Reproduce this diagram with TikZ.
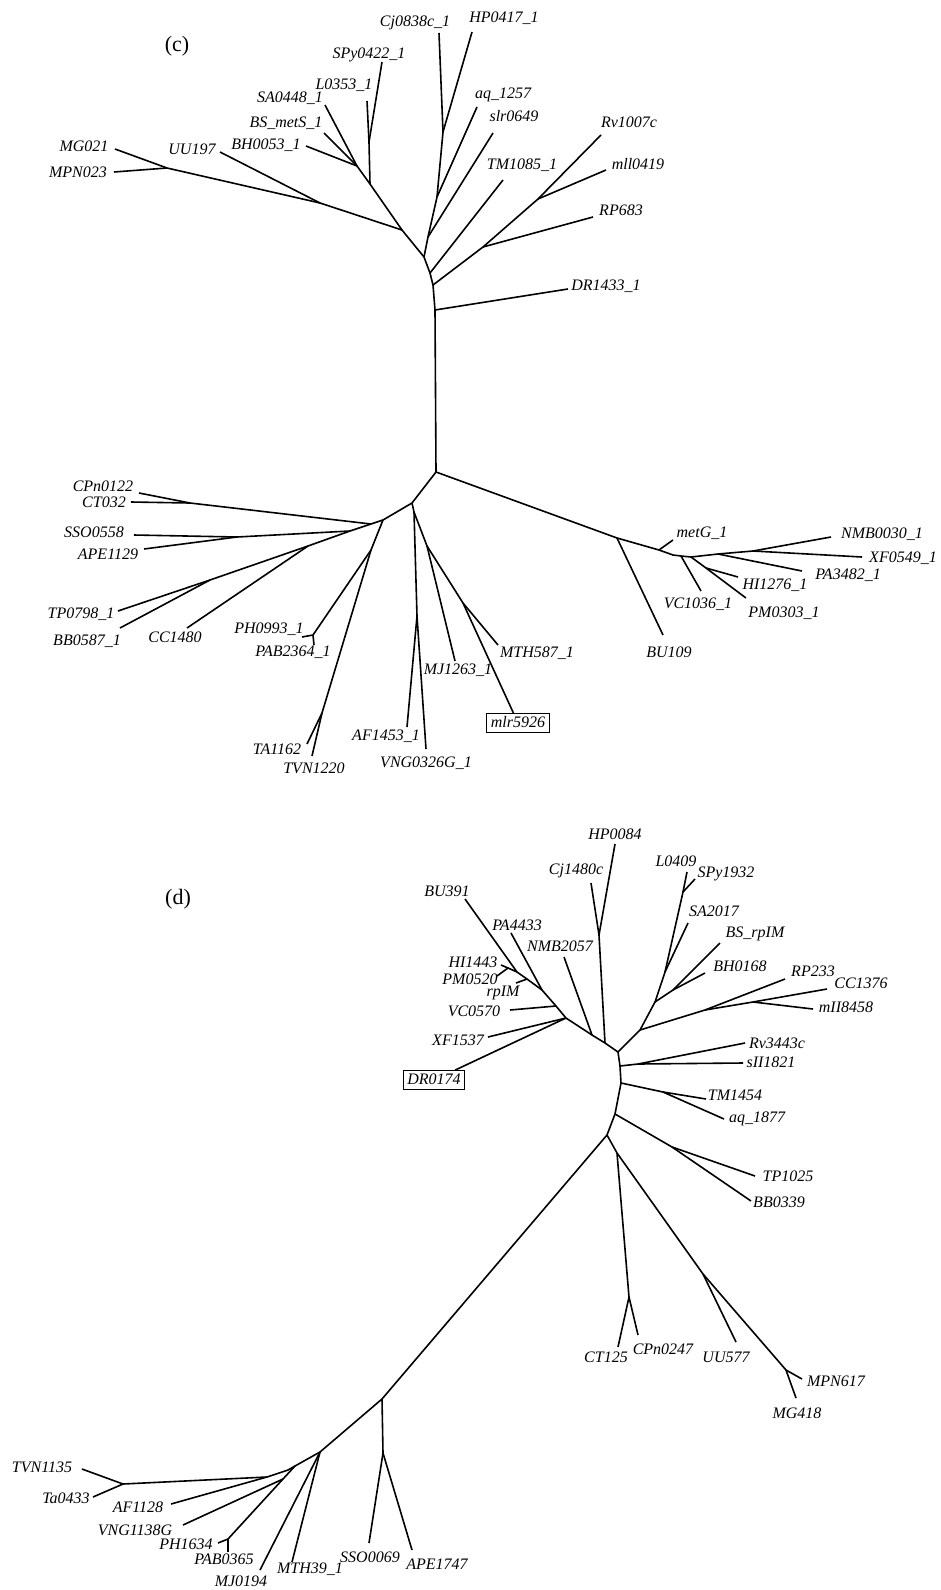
\documentclass[tikz,border=0pt]{standalone}
\usepackage{fontspec}
\setmainfont{Liberation Serif}
\begin{document}
\begin{tikzpicture}[x=1pt,y=-1pt,
  br/.style={line width=1.6pt,line join=round},
  lab/.style={font=\fontsize{16}{16}\selectfont\itshape,inner sep=0pt,anchor=base},
  boxlab/.style={draw,line width=0.8pt,font=\fontsize{16}{16}\selectfont\itshape,inner xsep=4pt,inner ysep=2.5pt,text height=11pt,text depth=3pt},
  panel/.style={font=\fontsize{22}{22}\selectfont,inner sep=0pt,anchor=base}]
\useasboundingbox (0,0) rectangle (940,1590);
\fill[white] (0,0) rectangle (940,1590);

% ================= panel (c) =================
\node[panel] (pc) at (177,51) {(c)};
% upper part
\coordinate (croot) at (436,472);
\coordinate (ctr) at (435,310);
\coordinate (crv) at (433,285);
\coordinate (ct1) at (430,273);
\coordinate (cr1) at (424,257);
\coordinate (cs1) at (428,237);
\coordinate (ca1) at (437,197);
\coordinate (cch) at (443,132);
\coordinate (lcj) at (439,33);
\coordinate (lhp) at (472,32);
\coordinate (laq) at (477,107);
\coordinate (lslr) at (493,133);
\coordinate (ltm) at (503,180);
\coordinate (crp) at (483,247);
\coordinate (cml) at (538,199);
\coordinate (lrv) at (601,135);
\coordinate (lmll) at (606,170);
\coordinate (lrp) at (593,217);
\coordinate (ldr) at (568,289);
\coordinate (cc1) at (402,230);
\coordinate (cb2) at (370,184);
\coordinate (cb1) at (357,166);
\coordinate (lsa) at (325,105);
\coordinate (lbs) at (324,133);
\coordinate (lbh) at (306,146);
\coordinate (cls) at (369,142);
\coordinate (ll) at (367,101);
\coordinate (lspy) at (382,62);
\coordinate (cu1) at (320,203);
\coordinate (luu) at (220,152);
\coordinate (cm1) at (167,168);
\coordinate (lmg) at (115,149);
\coordinate (lmpn) at (114,172);

\draw[br] (croot) -- (ctr) -- (crv) -- (ct1) -- (cr1) -- (cs1) -- (ca1) -- (cch) -- (lcj);
\draw[br] (cch) -- (lhp);
\draw[br] (ca1) -- (laq);
\draw[br] (cs1) -- (lslr);
\draw[br] (ct1) -- (ltm);
\draw[br] (crv) -- (crp) -- (cml) -- (lrv);
\draw[br] (cml) -- (lmll);
\draw[br] (crp) -- (lrp);
\draw[br] (ctr) -- (ldr);
\draw[br] (cr1) -- (cc1) -- (cb2) -- (cb1) -- (lsa);
\draw[br] (cb1) -- (lbs);
\draw[br] (cb1) -- (lbh);
\draw[br] (cb2) -- (cls) -- (ll);
\draw[br] (cls) -- (lspy);
\draw[br] (cc1) -- (cu1) -- (cm1) -- (lmg);
\draw[br] (cm1) -- (lmpn);
\draw[br] (cu1) -- (luu);

\node[lab] (tmg021) at (84,151) {MG021};
\node[lab] (tmpn023) at (78,177) {MPN023};
\node[lab] (tuu197) at (192,154) {UU197};
\node[lab] (tbh0053) at (266,149) {BH0053\_1};
\node[lab] (tbsmets) at (286,127) {BS\_metS\_1};
\node[lab] (tsa0448) at (290,102) {SA0448\_1};
\node[lab] (tl0353) at (344,89) {L0353\_1};
\node[lab] (tspy0422) at (369,58) {SPy0422\_1};
\node[lab] (tcj0838) at (415,27) {Cj0838c\_1};
\node[lab] (thp0417) at (504,22) {HP0417\_1};
\node[lab] (taq1257) at (503,98) {aq\_1257};
\node[lab] (tslr0649) at (514,121) {slr0649};
\node[lab] (ttm1085) at (522,169) {TM1085\_1};
\node[lab] (trv1007) at (629,127) {Rv1007c};
\node[lab] (tmll0419) at (638,169) {mll0419};
\node[lab] (trp683) at (621,215) {RP683};
\node[lab] (tdr1433) at (606,290) {DR1433\_1};

% right lower part
\coordinate (cb0) at (617,538);
\coordinate (cmg) at (659,550);
\coordinate (lmetg) at (673,540);
\coordinate (lbu) at (663,635);
\coordinate (cn0) at (673,555);
\coordinate (cvc) at (681,556);
\coordinate (lvc) at (701,591);
\coordinate (chp) at (691,557);
\coordinate (chi) at (706,568);
\coordinate (lhi) at (738,577);
\coordinate (lpm) at (746,598);
\coordinate (cpa) at (718,554);
\coordinate (lpa) at (802,571);
\coordinate (cnx) at (753,551);
\coordinate (lnmb) at (831,537);
\coordinate (lxf) at (862,557);

\draw[br] (croot) -- (cb0) -- (cmg) -- (cn0) -- (cvc) -- (chp) -- (cpa) -- (cnx) -- (lxf);
\draw[br] (cnx) -- (lnmb);
\draw[br] (cpa) -- (lpa);
\draw[br] (chp) -- (chi) -- (lpm);
\draw[br] (chi) -- (lhi);
\draw[br] (cvc) -- (lvc);
\draw[br] (cmg) -- (lmetg);
\draw[br] (cb0) -- (lbu);

\node[lab] (tmetg) at (702,537) {metG\_1};
\node[lab] (tnmb0030) at (882,538) {NMB0030\_1};
\node[lab] (txf0549) at (903,562) {XF0549\_1};
\node[lab] (tpa3482) at (848,579) {PA3482\_1};
\node[lab] (thi1276) at (775,589) {HI1276\_1};
\node[lab] (tpm0303) at (784,617) {PM0303\_1};
\node[lab] (tvc1036) at (698,608) {VC1036\_1};
\node[lab] (tbu109) at (669,657) {BU109};

% left lower part
\coordinate (cl0) at (412,503);
\coordinate (cl1) at (383,520);
\coordinate (cj2) at (371,524);
\coordinate (cj3) at (350,531);
\coordinate (cct) at (190,503);
\coordinate (lcpn) at (139,493);
\coordinate (lct) at (131,502);
\coordinate (csa) at (237,537);
\coordinate (lsso) at (134,535);
\coordinate (lape) at (144,549);
\coordinate (ctbc) at (308,546);
\coordinate (ctb) at (210,580);
\coordinate (ltp) at (118,611);
\coordinate (lbb) at (120,628);
\coordinate (lcc) at (187,628);
\coordinate (cpp) at (371,550);
\coordinate (cph) at (313,635);
\coordinate (lph) at (302,637);
\coordinate (lpab) at (314,645);
\coordinate (ctt) at (322,713);
\coordinate (lta) at (307,744);
\coordinate (ltvn) at (312,756);
\coordinate (cq1) at (414,512);
\coordinate (cafv) at (417,616);
\coordinate (laf) at (407,727);
\coordinate (lvng) at (426,749);
\coordinate (cq2) at (427,546);
\coordinate (lmj) at (455,661);
\coordinate (cq3) at (463,603);
\coordinate (lmth) at (498,645);
\node[boxlab] (bmlr) at (518,723) {mlr5926};

\draw[br] (croot) -- (cl0) -- (cl1) -- (cj2) -- (cj3) -- (ctbc) -- (ctb) -- (ltp);
\draw[br] (ctb) -- (lbb);
\draw[br] (ctbc) -- (lcc);
\draw[br] (cj3) -- (csa) -- (lsso);
\draw[br] (csa) -- (lape);
\draw[br] (cj2) -- (cct) -- (lcpn);
\draw[br] (cct) -- (lct);
\draw[br] (cl1) -- (cpp) -- (ctt) -- (lta);
\draw[br] (ctt) -- (ltvn);
\draw[br] (cpp) -- (cph) -- (lph);
\draw[br] (cph) -- (lpab);
\draw[br] (cl0) -- (cq1) -- (cafv) -- (laf);
\draw[br] (cafv) -- (lvng);
\draw[br] (cq1) -- (cq2) -- (lmj);
\draw[br] (cq2) -- (cq3) -- (lmth);
\draw[br] (cq3) -- (bmlr);

\node[lab] (tcpn0122) at (103,491) {CPn0122};
\node[lab] (tct032) at (104,507) {CT032};
\node[lab] (tsso0558) at (94,537) {SSO0558};
\node[lab] (tape1129) at (108,559) {APE1129};
\node[lab] (ttp0798) at (81,618) {TP0798\_1};
\node[lab] (tbb0587) at (87,645) {BB0587\_1};
\node[lab] (tcc1480) at (175,642) {CC1480};
\node[lab] (tph0993) at (269,633) {PH0993\_1};
\node[lab] (tpab2364) at (293,656) {PAB2364\_1};
\node[lab] (tta1162) at (277,754) {TA1162};
\node[lab] (ttvn1220) at (314,773) {TVN1220};
\node[lab] (taf1453) at (386,740) {AF1453\_1};
\node[lab] (tvng0326) at (426,767) {VNG0326G\_1};
\node[lab] (tmj1263) at (458,674) {MJ1263\_1};
\node[lab] (tmth587) at (537,657) {MTH587\_1};

% ================= panel (d) =================
\node[panel] (pd) at (178,904) {(d)};
\coordinate (dt) at (618,1052);
\coordinate (dp7) at (605,1043);
\coordinate (dhc) at (599,935);
\coordinate (lhp84) at (615,844);
\coordinate (lcj14) at (591,883);
\coordinate (dp6) at (592,1035);
\coordinate (lnmb20) at (564,957);
\coordinate (dp5) at (566,1018);
\coordinate (lxf15) at (488,1037);
\node[boxlab] (bdr) at (434,1080) {DR0174};
\coordinate (dp4) at (556,1006);
\coordinate (lvc05) at (510,1010);
\coordinate (dp3) at (542,990);
\coordinate (lpa44) at (511,933);
\coordinate (dp2) at (527,979);
\coordinate (lrpim) at (516,983);
\coordinate (dp1) at (517,972);
\coordinate (dhpm) at (508,968);
\coordinate (lhi14) at (501,965);
\coordinate (lpm05) at (497,976);
\coordinate (lbu39) at (465,899);

\draw[br] (lbu39) -- (dp1) -- (dp2) -- (dp3) -- (dp4) -- (dp5) -- (dp6) -- (dp7) -- (dt);
\draw[br] (dp7) -- (dhc) -- (lhp84);
\draw[br] (dhc) -- (lcj14);
\draw[br] (dp6) -- (lnmb20);
\draw[br] (dp5) -- (lxf15);
\draw[br] (dp5) -- (bdr);
\draw[br] (dp4) -- (lvc05);
\draw[br] (dp3) -- (lpa44);
\draw[br] (dp2) -- (lrpim);
\draw[br] (dp1) -- (dhpm) -- (lhi14);
\draw[br] (dhpm) -- (lpm05);

% right side of ring
\coordinate (du1) at (640,1030);
\coordinate (du2) at (655,1002);
\coordinate (du3) at (665,972);
\coordinate (dls) at (683,892);
\coordinate (ll04) at (687,872);
\coordinate (lspy19) at (695,879);
\coordinate (lsa20) at (688,923);
\coordinate (dbb) at (673,990);
\coordinate (lbs) at (720,943);
\coordinate (lbh01) at (705,973);
\coordinate (drc) at (705,1010);
\coordinate (lrp23) at (785,979);
\coordinate (dcm) at (753,1002);
\coordinate (lcc13) at (827,989);
\coordinate (lmll84) at (813,1009);
\coordinate (dr1) at (620,1066);
\coordinate (drs) at (638,1064);
\coordinate (lrv34) at (745,1043);
\coordinate (lsll) at (743,1063);
\coordinate (dr2) at (621,1083);
\coordinate (dta) at (663,1092);
\coordinate (ltm14) at (706,1099);
\coordinate (laq18) at (724,1119);
\coordinate (dr3) at (615,1114);
\coordinate (dtb) at (672,1147);
\coordinate (ltp10) at (755,1176);
\coordinate (lbb03) at (751,1201);
\coordinate (dr) at (607,1135);
\coordinate (dcu) at (617,1153);
\coordinate (dct) at (629,1297);
\coordinate (lct12) at (618,1347);
\coordinate (lcpn02) at (638,1335);
\coordinate (dum) at (703,1274);
\coordinate (luu57) at (736,1342);
\coordinate (dmm) at (786,1370);
\coordinate (lmpn61) at (802,1379);
\coordinate (lmg41) at (796,1398);

\draw[br] (dt) -- (du1) -- (du2) -- (du3) -- (dls) -- (ll04);
\draw[br] (dls) -- (lspy19);
\draw[br] (du3) -- (lsa20);
\draw[br] (du2) -- (dbb) -- (lbs);
\draw[br] (dbb) -- (lbh01);
\draw[br] (du1) -- (drc) -- (dcm) -- (lcc13);
\draw[br] (dcm) -- (lmll84);
\draw[br] (drc) -- (lrp23);
\draw[br] (dt) -- (dr1) -- (dr2) -- (dr3) -- (dr);
\draw[br] (dr1) -- (drs) -- (lrv34);
\draw[br] (drs) -- (lsll);
\draw[br] (dr2) -- (dta) -- (ltm14);
\draw[br] (dta) -- (laq18);
\draw[br] (dr3) -- (dtb) -- (ltp10);
\draw[br] (dtb) -- (lbb03);
\draw[br] (dr) -- (dcu) -- (dct) -- (lct12);
\draw[br] (dct) -- (lcpn02);
\draw[br] (dcu) -- (dum) -- (dmm) -- (lmpn61);
\draw[br] (dmm) -- (lmg41);
\draw[br] (dum) -- (luu57);

% lower-left part
\coordinate (ds) at (382,1399);
\coordinate (dsa) at (383,1453);
\coordinate (lsso00) at (369,1543);
\coordinate (lape17) at (412,1550);
\coordinate (da1) at (320,1452);
\coordinate (lmj01) at (260,1570);
\coordinate (lmth39) at (292,1562);
\coordinate (da2) at (295,1466);
\coordinate (dv1) at (283,1479);
\coordinate (lvng11) at (183,1525);
\coordinate (dpp) at (228,1539);
\coordinate (lph16) at (218,1543);
\coordinate (lpab03) at (228,1552);
\coordinate (dab) at (288,1470);
\coordinate (dat) at (267,1477);
\coordinate (laf11) at (171,1504);
\coordinate (dtt) at (123,1484);
\coordinate (ltvn11) at (82,1469);
\coordinate (lta04) at (93,1497);

\draw[br] (dr) -- (ds) -- (da1) -- (da2) -- (dab) -- (dat) -- (dtt) -- (ltvn11);
\draw[br] (dtt) -- (lta04);
\draw[br] (dat) -- (laf11);
\draw[br] (da2) -- (dv1) -- (dpp) -- (lph16);
\draw[br] (dpp) -- (lpab03);
\draw[br] (dv1) -- (lvng11);
\draw[br] (da1) -- (lmj01);
\draw[br] (da1) -- (lmth39);
\draw[br] (ds) -- (dsa) -- (lsso00);
\draw[br] (dsa) -- (lape17);

\node[lab] (tbu391) at (447,896) {BU391};
\node[lab] (tpa4433) at (517,930) {PA4433};
\node[lab] (tnmb2057) at (560,951) {NMB2057};
\node[lab] (thi1443) at (473,967) {HI1443};
\node[lab] (tpm0520) at (470,984) {PM0520};
\node[lab] (trpim) at (503,996) {rpIM};
\node[lab] (tvc0570) at (474,1016) {VC0570};
\node[lab] (txf1537) at (458,1045) {XF1537};
\node[lab] (tcj1480) at (576,874) {Cj1480c};
\node[lab] (thp0084) at (615,839) {HP0084};
\node[lab] (tl0409) at (676,866) {L0409};
\node[lab] (tspy1932) at (726,877) {SPy1932};
\node[lab] (tsa2017) at (714,916) {SA2017};
\node[lab] (tbsrpim) at (755,937) {BS\_rpIM};
\node[lab] (tbh0168) at (740,971) {BH0168};
\node[lab] (trp233) at (813,976) {RP233};
\node[lab] (tcc1376) at (861,988) {CC1376};
\node[lab] (tmii8458) at (846,1012) {mII8458};
\node[lab] (trv3443) at (777,1048) {Rv3443c};
\node[lab] (tsii1821) at (771,1067) {sII1821};
\node[lab] (ttm1454) at (735,1100) {TM1454};
\node[lab] (taq1877) at (757,1122) {aq\_1877};
\node[lab] (ttp1025) at (788,1181) {TP1025};
\node[lab] (tbb0339) at (779,1207) {BB0339};
\node[lab] (tct125) at (606,1362) {CT125};
\node[lab] (tcpn0247) at (663,1354) {CPn0247};
\node[lab] (tuu577) at (726,1362) {UU577};
\node[lab] (tmpn617) at (836,1386) {MPN617};
\node[lab] (tmg418) at (797,1418) {MG418};
\node[lab] (ttvn1135) at (42,1472) {TVN1135};
\node[lab] (tta0433) at (66,1503) {Ta0433};
\node[lab] (taf1128) at (138,1512) {AF1128};
\node[lab] (tvng1138) at (135,1535) {VNG1138G};
\node[lab] (tph1634) at (186,1549) {PH1634};
\node[lab] (tpab0365) at (224,1564) {PAB0365};
\node[lab] (tmj0194) at (241,1586) {MJ0194};
\node[lab] (tmth39) at (310,1573) {MTH39\_1};
\node[lab] (tsso0069) at (370,1562) {SSO0069};
\node[lab] (tape1747) at (437,1569) {APE1747};
\end{tikzpicture}
\end{document}
